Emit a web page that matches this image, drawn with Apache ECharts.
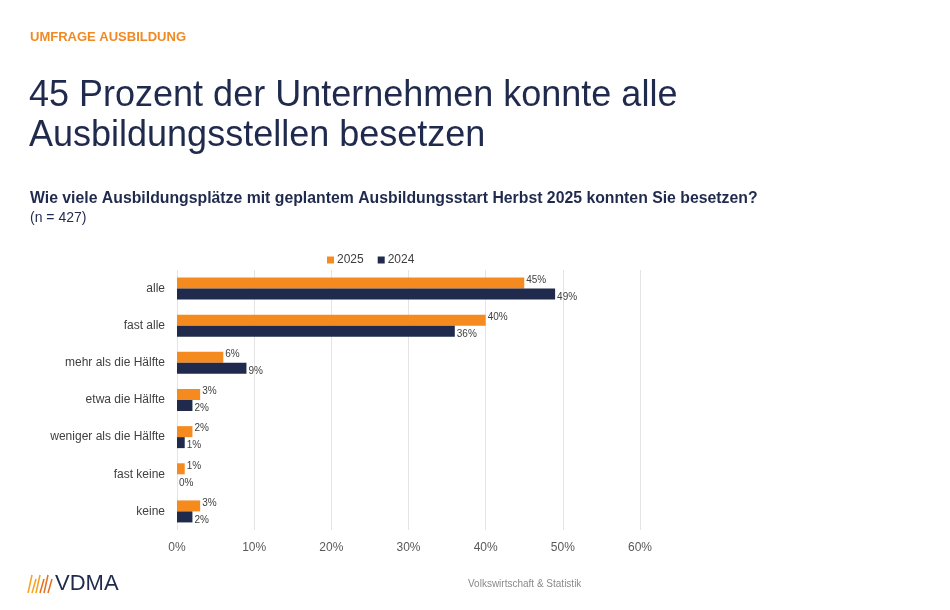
<!DOCTYPE html>
<html>
<head>
<meta charset="utf-8">
<script src="https://cdn.jsdelivr.net/npm/echarts@6/dist/echarts.min.js"></script>
<style>html,body{margin:0;padding:0;background:#fff}#chart{width:950px;height:610px}</style>
</head>
<body>
<div id="chart"></div>
<script>
var categories = ['alle', 'fast alle', 'mehr als die Hälfte', 'etwa die Hälfte', 'weniger als die Hälfte', 'fast keine', 'keine'];
var values2025 = [45, 40, 6, 3, 2, 1, 3];
var values2024 = [49, 36, 9, 2, 1, 0, 2];

var dom = document.getElementById('chart');
var myChart = echarts.init(dom, null, { renderer: 'canvas' });
var font = 'Arial, "Liberation Sans", sans-serif';

// logo strokes
var logoLines = [];
for (var i = 0; i < 6; i++) {
    logoLines.push({
        type: 'line',
        shape: { x1: 32 + i * 4, y1: 593 - (i % 2 ? 14 : 18), x2: 28 + i * 4, y2: 593 },
        style: { stroke: i < 3 ? '#f7a21b' : '#e3701a', lineWidth: 1.5 }
    });
}

var option = {
    textStyle: { fontFamily: font },
    color: ['#f58a1f', '#1f2a4d'],
    legend: {
        data: ['2025', '2024'],
        top: 249,
        left: 322,
        itemWidth: 7,
        itemHeight: 7,
        itemGap: 14,
        icon: 'rect',
        textStyle: { color: '#404040', fontSize: 12, padding: [0, 0, 0, -2] }
    },
    grid: { left: 177, right: 310, top: 270, bottom: 80 },
    xAxis: {
        type: 'value',
        min: 0,
        max: 60,
        interval: 10,
        axisLabel: { formatter: '{value}%', color: '#595959', fontSize: 12, margin: 12 },
        splitLine: { lineStyle: { color: '#e4e4e4' } },
        axisLine: { show: false },
        axisTick: { show: false }
    },
    yAxis: {
        type: 'category',
        data: categories,
        inverse: true,
        axisLabel: { color: '#404040', fontSize: 12, margin: 12 },
        axisLine: { show: false },
        axisTick: { show: false }
    },
    series: [
        {
            name: '2025', type: 'bar', data: values2025, barWidth: 11, barGap: '0%',
            label: { show: true, position: 'right', formatter: '{c}%', fontSize: 10, color: '#404040', distance: 2, offset: [0, -3] }
        },
        {
            name: '2024', type: 'bar', data: values2024, barWidth: 11,
            label: { show: true, position: 'right', formatter: '{c}%', fontSize: 10, color: '#404040', distance: 2, offset: [0, 3] }
        }
    ],
    graphic: [
        { type: 'text', left: 30, top: 31, style: { text: 'UMFRAGE AUSBILDUNG', fill: '#f08a24', font: 'bold 13px ' + font } },
        { type: 'text', left: 29, top: 76, style: { text: '45 Prozent der Unternehmen konnte alle\nAusbildungsstellen besetzen', fill: '#1f2a4d', font: '36px ' + font, lineHeight: 40 } },
        { type: 'text', left: 30, top: 191, style: { text: 'Wie viele Ausbildungsplätze mit geplantem Ausbildungsstart Herbst 2025 konnten Sie besetzen?', fill: '#1f2a4d', font: 'bold 15.8px ' + font } },
        { type: 'text', left: 30, top: 211, style: { text: '(n = 427)', fill: '#1f2a4d', font: '14px ' + font } },
        { type: 'text', left: 55, top: 573, style: { text: 'VDMA', fill: '#1f2a4d', font: '22px ' + font } },
        { type: 'text', left: 468, top: 579, style: { text: 'Volkswirtschaft & Statistik', fill: '#8a8a8a', font: '10px ' + font } }
    ].concat(logoLines)
};

myChart.setOption(option);
window.addEventListener('resize', myChart.resize);
</script>
</body>
</html>
